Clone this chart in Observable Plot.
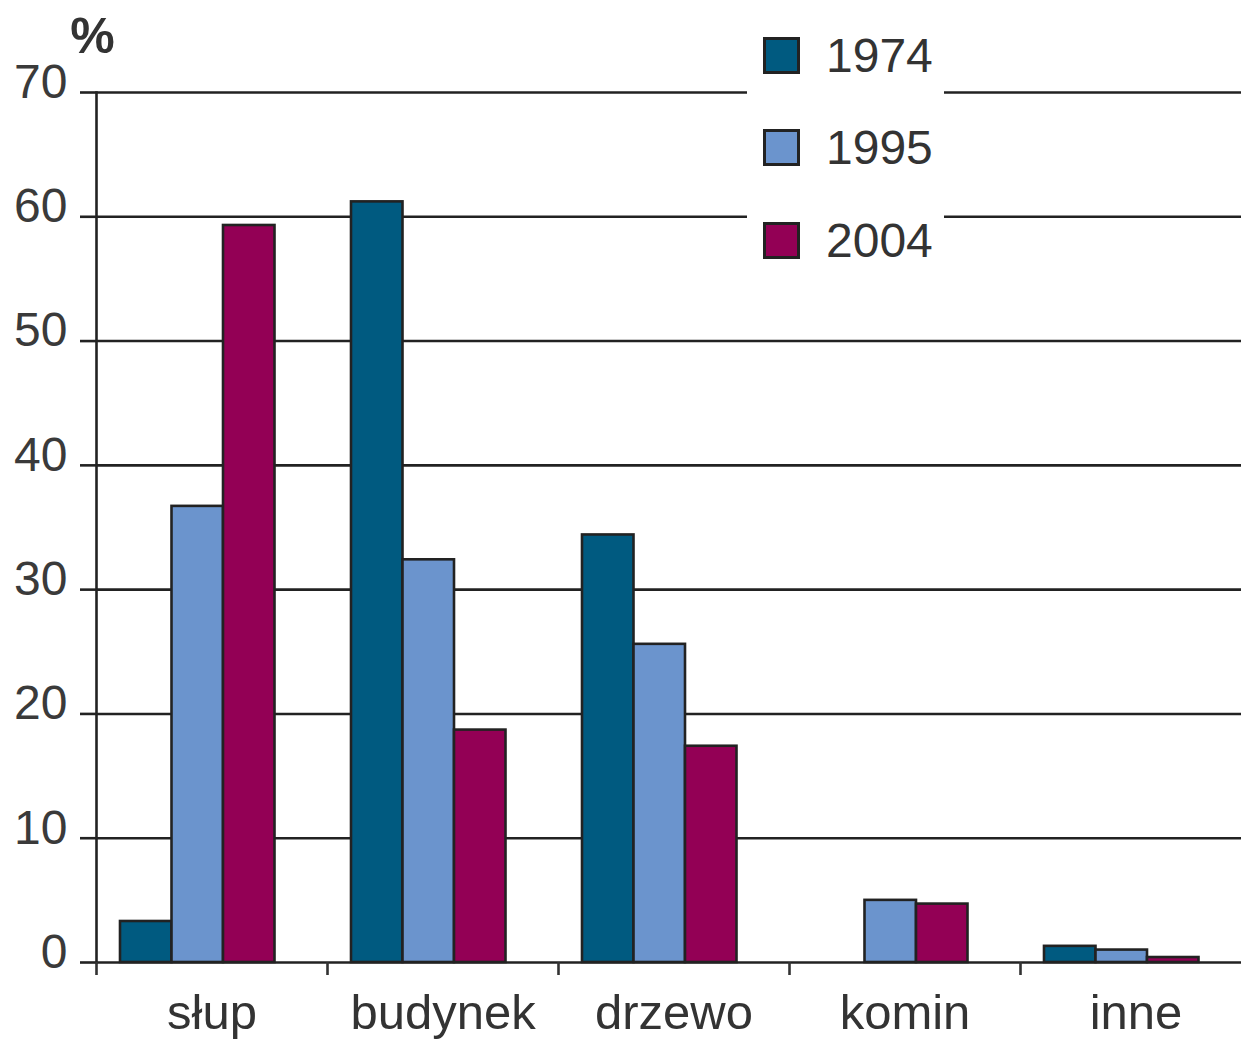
<!DOCTYPE html>
<html><head><meta charset="utf-8">
<script src="https://cdn.jsdelivr.net/npm/d3@7"></script>
<script src="https://cdn.jsdelivr.net/npm/@observablehq/plot@0.6"></script>
<style>
body{margin:0;background:#fff;}
#wrap{position:relative;width:1241px;height:1042px;overflow:hidden;}
#wrap svg{color:#333;font-family:"Liberation Sans",Arial,sans-serif;}
.legend{position:absolute;left:747px;top:9px;width:197px;background:#fff;font-family:"Liberation Sans",Arial,sans-serif;font-size:48px;color:#333;}
.row{height:92.5px;display:flex;align-items:center;}
.sw{width:31px;height:31px;border:3px solid #222;margin-left:16px;margin-right:26px;}
</style>
</head><body>
<div id="wrap"></div>
<script>
const categories = ["słup", "budynek", "drzewo", "komin", "inne"];
const years = ["1974", "1995", "2004"];
const v1974 = [3.3, 61.2, 34.4, 0, 1.3];
const v1995 = [36.7, 32.4, 25.6, 5.0, 1.0];
const v2004 = [59.3, 18.7, 17.4, 4.7, 0.4];
const yTicks = [0, 10, 20, 30, 40, 50, 60, 70];
const colors = ["#005a80", "#6b94cd", "#930055"];

const series = [v1974, v1995, v2004];
const rows = years.map((yr, i) => categories.map((c, j) => ({category: c, year: yr, value: series[i][j]})).filter(d => d.value > 0));

// bar layout inside each category band (pixels)
const bw = 51.5, lead = 24, band = 231;
const barMarks = years.map((yr, i) => Plot.barY(rows[i], {
  x: "category", y: "value", fill: colors[i], stroke: "#222", strokeWidth: 2.6,
  insetLeft: lead + bw * i, insetRight: band - lead - bw * (i + 1)
}));

const chart = Plot.plot({
  width: 1241, height: 1042,
  marginLeft: 96, marginRight: 0, marginTop: 92, marginBottom: 80,
  x: {type: "band", domain: categories, range: [96, 96 + band * 5], padding: 0, axis: null},
  y: {domain: [0, 70], axis: null},
  marks: [
    Plot.ruleY(yTicks, {stroke: "#222", strokeWidth: 2.6}),
    Plot.frame({anchor: "left", stroke: "#222", strokeWidth: 2.6}),
    ...barMarks,
    Plot.axisY({ticks: yTicks, tickSize: 16, text: null, label: null, strokeWidth: 2.6, stroke: "#222"}),
    Plot.axisY({ticks: yTicks, tickSize: 0, tickPadding: 29, fontSize: 48, label: null, dy: -10, fill: "#3a3a3a"}),
    Plot.axisX({tickSize: 0, tickPadding: 32, fontSize: 49, label: null, fill: "#333"}),
    Plot.axisX({tickSize: 13, text: null, label: null, dx: -band / 2, strokeWidth: 2.6, stroke: "#333"}),
    Plot.text(["%"], {frameAnchor: "top-left", dx: -4, dy: -75, fontSize: 50, fontWeight: "bold", textAnchor: "middle", fill: "#333"})
  ]
});
const wrap = document.getElementById("wrap");
wrap.appendChild(chart);

const legend = document.createElement("div");
legend.className = "legend";
years.forEach((yr, i) => {
  const r = document.createElement("div");
  r.className = "row";
  r.innerHTML = `<div class="sw" style="background:${colors[i]}"></div><span>${yr}</span>`;
  legend.appendChild(r);
});
wrap.appendChild(legend);
</script>
</body></html>
